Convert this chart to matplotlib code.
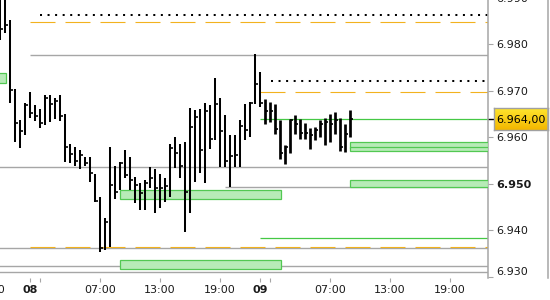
"""Half-hour HLC bars with support/resistance levels, two sessions (08 and 09)"""

import numpy as np
import matplotlib
matplotlib.use('Agg')
import matplotlib.pyplot as plt
from matplotlib.patches import Rectangle
from matplotlib.lines import Line2D
from matplotlib.transforms import blended_transform_factory

# bar data, one bar every 30 minutes (first 53 bars = day 08 session, rest = day 09)
highs = [6990.6, 6990.3, 6985.2, 6970.4, 6963.7, 6967.4, 6969.7, 6966.9, 6966.1, 6969.1,
         6969.1, 6968.5, 6969.1, 6965.0, 6958.6, 6957.9, 6957.3, 6955.8, 6955.8, 6952.1,
         6947.2, 6942.6, 6957.9, 6953.8, 6954.7, 6957.3, 6955.8, 6951.5, 6950.2, 6950.8,
         6953.6, 6953.2, 6952.1, 6951.2, 6958.6, 6960.0, 6958.6, 6959.0, 6966.3, 6965.9,
         6966.1, 6967.4, 6966.9, 6972.8, 6968.4, 6964.8, 6960.5, 6960.5, 6963.7, 6967.2,
         6967.6, 6977.9, 6974.0,
         6968.2, 6967.6, 6967.2, 6963.7, 6958.3, 6963.9, 6964.8, 6963.9, 6963.1, 6962.0,
         6962.2, 6963.7, 6964.1, 6965.0, 6965.4, 6964.1, 6962.9, 6965.9]
lows = [6980.9, 6982.4, 6967.4, 6959.0, 6957.7, 6960.5, 6964.1, 6963.5, 6962.0, 6962.6,
        6963.3, 6963.9, 6963.5, 6954.7, 6954.5, 6953.8, 6953.2, 6953.8, 6950.4, 6946.1,
        6935.3, 6935.7, 6936.4, 6946.7, 6948.7, 6951.2, 6948.7, 6945.9, 6944.4, 6944.4,
        6949.1, 6943.7, 6944.8, 6946.1, 6947.2, 6953.4, 6951.2, 6939.6, 6943.7, 6950.4,
        6952.3, 6950.2, 6957.5, 6959.4, 6953.6, 6953.6, 6949.3, 6953.6, 6953.6, 6959.4,
        6960.1, 6967.2, 6966.5,
        6962.9, 6963.3, 6960.7, 6955.3, 6954.3, 6956.6, 6960.7, 6959.6, 6959.6, 6957.5,
        6959.4, 6960.1, 6958.3, 6959.0, 6960.7, 6957.0, 6956.8, 6960.1]
closes = [6983.3, 6984.2, 6970.2, 6963.1, 6961.4, 6966.9, 6965.2, 6964.6, 6963.1, 6968.5,
          6967.2, 6967.8, 6964.6, 6957.9, 6956.4, 6954.9, 6956.2, 6954.5, 6952.3, 6946.3,
          6936.2, 6941.8, 6949.7, 6948.2, 6954.5, 6951.9, 6950.8, 6949.7, 6948.0, 6950.2,
          6951.2, 6949.1, 6949.1, 6949.5, 6957.7, 6956.6, 6953.8, 6948.2, 6962.2, 6964.4,
          6957.3, 6965.7, 6959.6, 6967.2, 6961.4, 6954.9, 6956.0, 6956.2, 6962.4, 6961.6,
          6967.4, 6971.5, 6967.4,
          6965.7, 6965.7, 6961.8, 6956.6, 6957.9, 6963.7, 6962.9, 6960.9, 6960.9, 6960.5,
          6961.6, 6962.9, 6963.3, 6962.9, 6963.7, 6957.9, 6960.7, 6963.9]
n_day1 = 53
last_price = 6964.0

# horizontal levels: value, first bar index
grey_levels = [6977.7, 6953.5, 6949.2, 6936.2, 6932.4, 6931.0]
grey_starts = [6, -3, 45, -3, -3, -3]
dotted_levels = [6986.3, 6972.0]
dotted_starts = [8, 54.2]
dashed_levels = [6984.7, 6969.7, 6936.3]
dashed_starts = [6, 52, 6]
green_levels = [last_price, 6938.4]
green_starts = [52, 52]

# zones: low, high, first bar, last bar (None = to the axis)
zone_lo = [6971.7, 6957.7, 6957.1, 6949.4, 6946.7, 6931.7]
zone_hi = [6973.8, 6959.0, 6957.8, 6950.8, 6948.7, 6933.6]
zone_start = [-3, 70, 70, 70, 24, 24]
zone_end = [1.1, None, None, None, 56.2, 56.2]

xtick_pos = [-2, 6, 8, 20, 32, 44, 52, 54, 66, 78, 90]
xtick_lab = ['19:00', '08', '', '07:00', '13:00', '19:00', '09', '', '07:00', '13:00', '19:00']
ytick_val = [6930, 6940, 6950, 6960, 6970, 6980, 6990]


def de_num(v, dec):
    # 6964.0 -> "6.964,00"
    s = '{:,.{}f}'.format(v, dec)
    return s.replace(',', ' ').replace('.', ',').replace(' ', '.')


grey = '#A6A6A6'
txt = '#1A1A1A'

W, H = 550.0, 300.0
fig = plt.figure(figsize=(5.5, 3.0), dpi=100)
ax = fig.add_axes([-12.5 / W, (H - 277.7) / H, 500.5 / W, 280.7 / H])
xmin, xmax = -2.5, 97.6
ax.set_xlim(xmin, xmax)
ax.set_ylim(6929.78, 6990.18)

x = np.arange(len(highs))

for v, s in zip(grey_levels, grey_starts):
    ax.hlines(v, s, xmax, colors=grey, lw=1.0, zorder=1)
for v, s in zip(green_levels, green_starts):
    ax.hlines(v, s, xmax, colors='#45C845', lw=0.9, zorder=2)
for v, s in zip(dashed_levels, dashed_starts):
    ax.plot([s, xmax], [v, v], color='#F2B21E', lw=0.8, ls=(0, (22.5, 9)), zorder=2)
for v, s in zip(dotted_levels, dotted_starts):
    ax.plot([s, xmax], [v, v], color='black', lw=1.45, ls=(0, (1, 2.75)),
            dash_capstyle='butt', zorder=2)

for lo, hi, s, e in zip(zone_lo, zone_hi, zone_start, zone_end):
    e = xmax if e is None else e
    ax.add_patch(Rectangle((s, lo), e - s, hi - lo, facecolor='#B7EBB7',
                           edgecolor='#52C852', lw=0.9, zorder=3))

# HLC bars
widths = [1.45 if i < n_day1 else 1.95 for i in x]
ax.vlines(x, lows, highs, colors='black', lw=widths, zorder=4)
ax.hlines(closes, x, x + 0.5, colors='black', lw=1.2, zorder=4)

# axes styling
for side in ['left', 'top', 'bottom']:
    ax.spines[side].set_visible(False)
ax.spines['right'].set_color(grey)
ax.spines['right'].set_linewidth(1.1)
ax.yaxis.tick_right()
ax.set_yticks(ytick_val)
ax.set_yticklabels([de_num(v, 0) for v in ytick_val])
ax.tick_params(axis='y', length=3.6, width=0.8, color=grey, labelcolor=txt,
               pad=2.2, labelsize=8)
ax.set_xticks(xtick_pos)
ax.set_xticklabels(xtick_lab)
ax.tick_params(axis='x', length=2.9, width=0.8, color=grey, labelcolor=txt,
               pad=2.5, labelsize=8)
for lab in ax.get_xticklabels():
    if lab.get_text() in ('08', '09'):
        lab.set_fontweight('bold')
for lab in ax.get_yticklabels():
    if lab.get_text() == '6.950':
        lab.set_fontweight('bold')
    if lab.get_text() == '6.930':
        lab.set_verticalalignment('bottom')

# current price marker on the axis
tr = blended_transform_factory(ax.transAxes, ax.transData)
ax.add_line(Line2D([1.0, 1.0 + 4.5 / 500.5], [last_price, last_price], transform=tr,
                   color='black', lw=1.0, clip_on=False))

pax = fig.add_axes([494 / W, (H - 130) / H, 54 / W, 22 / H])
grad = np.linspace(0, 1, 50).reshape(-1, 1)
cmap = matplotlib.colors.LinearSegmentedColormap.from_list('gold', ['#FFE52E', '#F3B700'])
pax.imshow(grad, aspect='auto', cmap=cmap, extent=[0, 1, 0, 1])
pax.set_xticks([])
pax.set_yticks([])
for sp in pax.spines.values():
    sp.set_color('#A0A0A0')
    sp.set_linewidth(1.0)
pax.text(0.5, 0.47, de_num(last_price, 2), ha='center', va='center',
         fontsize=8, color='black')

fig.add_artist(Line2D([547.5 / W, 547.5 / W], [(H - 277.7) / H, 1.0],
                      transform=fig.transFigure, color=grey, lw=1.1))

fig.savefig('out.png', dpi=100)
